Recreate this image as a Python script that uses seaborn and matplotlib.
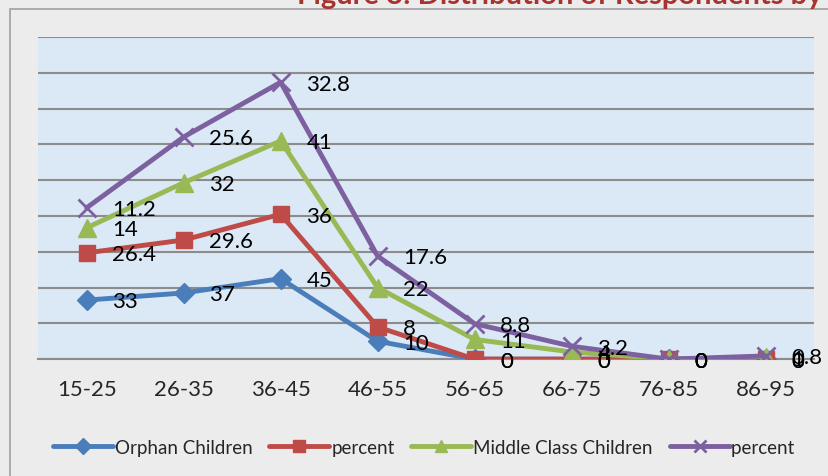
import matplotlib
matplotlib.use("Agg")
import matplotlib.pyplot as plt
import seaborn as sns
import pandas as pd
import numpy as np

age_groups = ["15-25", "26-35", "36-45", "46-55", "56-65", "66-75", "76-85", "86-95"]
orphan_children = [33, 37, 45, 10, 0, 0, 0, 0]
orphan_percent = [26.4, 29.6, 36, 8, 0, 0, 0, 0]
middle_class_children = [14, 32, 41, 22, 11, 4, 0, 1]
middle_class_percent = [11.2, 25.6, 32.8, 17.6, 8.8, 3.2, 0, 0.8]

series_names = ["Orphan Children", "percent", "Middle Class Children", "percent "]
series_values = [orphan_children, orphan_percent, middle_class_children, middle_class_percent]
colors = ["#4a7ebb", "#be4b48", "#98b954", "#7d60a0"]
markers = ["D", "s", "^", "x"]
marker_sizes = [10, 12, 13, 13]

sns.set_theme(style="white")
plt.rcParams["font.family"] = ["Lato", "DejaVu Sans"]

fig = plt.figure(figsize=(8.29, 4.77), dpi=100)
fig.patch.set_facecolor("#ececec")
ax = fig.add_axes([0.046, 0.245, 0.936, 0.675])
ax.set_facecolor("#dbe8f5")

# stacked line chart: each series sits on top of the previous ones
x = np.arange(len(age_groups))
running = np.zeros(len(age_groups))
for name, vals, col, mk, ms in zip(series_names, series_values, colors, markers, marker_sizes):
    running = running + np.array(vals, dtype=float)
    df = pd.DataFrame({"x": x, "y": running})
    sns.lineplot(data=df, x="x", y="y", ax=ax, color=col, linewidth=3.5,
                 marker=mk, markersize=ms, markeredgecolor=col,
                 markeredgewidth=2 if mk == "x" else 1, label=name, zorder=3)
    for xi, yi, v in zip(x, running, vals):
        ax.annotate(f"{v:g}", (xi, yi), xytext=(18.5, -1), textcoords="offset points",
                    ha="left", va="center", fontsize=16, color="black", zorder=5)

ax.set_xlim(-0.5, len(age_groups) - 0.5)
ax.set_ylim(0, 180)
ax.set_yticks(np.arange(0, 181, 20))
ax.set_yticklabels([])
ax.yaxis.grid(True, color="#8c8c8c", linewidth=1.5)
ax.set_axisbelow(True)
ax.set_xticks(x)
ax.set_xticklabels(age_groups, fontsize=16)
ax.tick_params(axis="x", length=0, pad=14)
ax.tick_params(axis="y", length=0)
ax.set_xlabel("")
ax.set_ylabel("")
for s in ["top", "right", "left"]:
    ax.spines[s].set_visible(False)
ax.spines["bottom"].set_color("#8c8c8c")
ax.spines["bottom"].set_linewidth(1.5)

leg = ax.legend(loc="upper center", bbox_to_anchor=(0.5, -0.195), ncol=4, frameon=False,
                fontsize=13.5, handlelength=3.2, handletextpad=0.1, columnspacing=0.9)
for h in leg.legend_handles:
    h.set_markersize(8)

# chart border and the title of the page, mostly cut off at the top
fig.add_artist(plt.Rectangle((0.012, -0.01), 1.0, 0.99, transform=fig.transFigure,
                             fill=False, edgecolor="#a0a0a0", linewidth=1.2))
fig.text(0.358, 0.992, "Figure 3: Distribution of Respondents by Age", color="#a8322d",
         fontsize=21, fontweight="bold", ha="left", va="baseline")

fig.savefig("out.png", dpi=100, facecolor=fig.get_facecolor())
